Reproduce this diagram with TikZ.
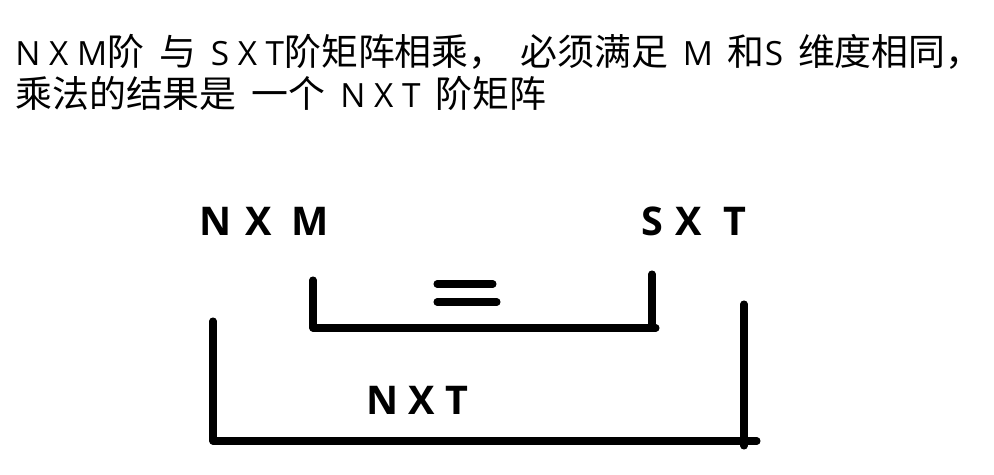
\documentclass[tikz,border=0pt]{standalone}
\usepackage{fontspec}
\newfontfamily\cjk{Noto Sans CJK SC}[WordSpace=1.8]
\newfontfamily\latn{Open Sans}[WordSpace=1.6]
\newfontfamily\lbl{Open Sans}
\newcommand\lt[1]{{\latn\fontsize{19}{22}\selectfont #1}}
\usetikzlibrary{positioning}

\tikzset{
  head/.style={anchor=base west, inner sep=0pt, font=\cjk\fontsize{21}{24}\selectfont},
  dims/.style={anchor=base west, inner sep=0pt, font=\lbl\bfseries\fontsize{22.5}{26}\selectfont},
  bar/.style={line width=4pt, line cap=round, line join=round},
}

\begin{document}
\begin{tikzpicture}[x=0.02cm,y=-0.02cm]
\useasboundingbox (0,0) rectangle (994,475);
% the rule, in two lines
\node[head] (line1) at (15,66) {\lt{N X M}阶 与 \lt{S X T}阶矩阵相乘， 必须满足 \lt{M} 和\lt{S} 维度相同，};
\node[head] (line2) at (15,108) {乘法的结果是 一个 \lt{N X T} 阶矩阵};
% the two factors and the product
\node[dims] (nxm) at (199,236) {N\hspace{0.35em}X\hspace{0.5em}M};
\node[dims] (sxt) at (641,236) {S\hspace{0.3em}X\hspace{0.55em}T};
\node[dims] (nxt) at (366,415) {N X T};
% inner bracket, M and S
\coordinate (m) at (313,280);
\coordinate (s) at (652,274);
\draw[bar] (m) -- (313,328) -- (656,328);
\draw[bar] (s) -- (652,328);
\draw[bar] (437,284) -- (493,284);
\draw[bar] (437,302) -- (497,302);
% outer bracket, N and T
\coordinate (n) at (213,321);
\coordinate (t) at (744,304);
\draw[bar] (n) -- (213,441) -- (757,441);
\draw[bar] (t) -- (744,446);
\end{tikzpicture}
\end{document}
